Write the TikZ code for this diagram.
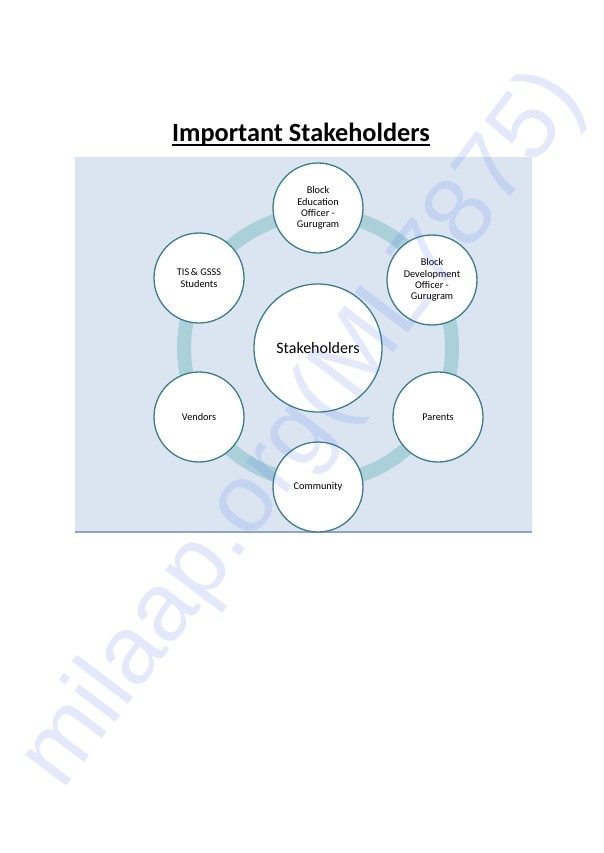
\documentclass[tikz,border=0pt]{standalone}
\usepackage{fontspec}
\setmainfont{Carlito}
\newfontfamily\markfont{Liberation Sans}
\usetikzlibrary{positioning}
\definecolor{panelblue}{RGB}{219,229,241}
\definecolor{panelline}{RGB}{140,166,198}
\definecolor{ringteal}{RGB}{170,208,218}
\definecolor{edgeteal}{RGB}{58,126,140}
\definecolor{markblue}{RGB}{70,110,230}
\tikzset{
    x=1pt, y=-1pt, % one unit is one pixel of the page, y runs downward
    stake/.style={circle, draw=edgeteal, line width=1.3pt, fill=white,
        minimum size=90pt, inner sep=0pt, align=center,
        font=\fontsize{10.3}{11.3}\selectfont}, % the six outer circles
    hubstake/.style={stake, minimum size=128pt, font=\fontsize{16}{19}\selectfont},
    wmark/.style={font=\markfont\fontsize{97}{97}\selectfont, text=markblue,
        text opacity=0.15, inner sep=0pt}, % faint site stamp over everything
}
\begin{document}
\begin{tikzpicture}
  \useasboundingbox (0,0) rectangle (603,853);

  % title
  \node[inner sep=0pt, anchor=base, font=\bfseries\fontsize{26.3}{30}\selectfont]
      (title) at (301,142) {Important Stakeholders};
  \draw[line width=1.6pt] ([yshift=-3pt]title.base west) -- ([yshift=-3pt]title.base east);

  % panel and ring
  \fill[panelblue] (75,157) rectangle (532,532);
  \draw[panelline, line width=1.2pt] (75,532) -- (532,532);
  \coordinate (o) at (318,348);
  \draw[ringteal, line width=14pt] (o) circle (134pt);

  \node[hubstake] (c_0) at (o)       {Stakeholders};
  \node[stake]    (s_1) at (318,208) {Block\\Education\\Officer -\\Gurugram};
  \node[stake]    (s_2) at (432,280) {Block\\Development\\Officer -\\Gurugram};
  \node[stake]    (s_3) at (438,417) {Parents};
  \node[stake]    (s_4) at (318,487) {Community};
  \node[stake]    (s_5) at (199,417) {Vendors};
  \node[stake]    (s_6) at (199,278) {TIS\,\& GSSS\\Students};

  % watermark
  \node[wmark, rotate=53] (mark) at (304,430) {milaap.org(ML7875)};
\end{tikzpicture}
\end{document}
